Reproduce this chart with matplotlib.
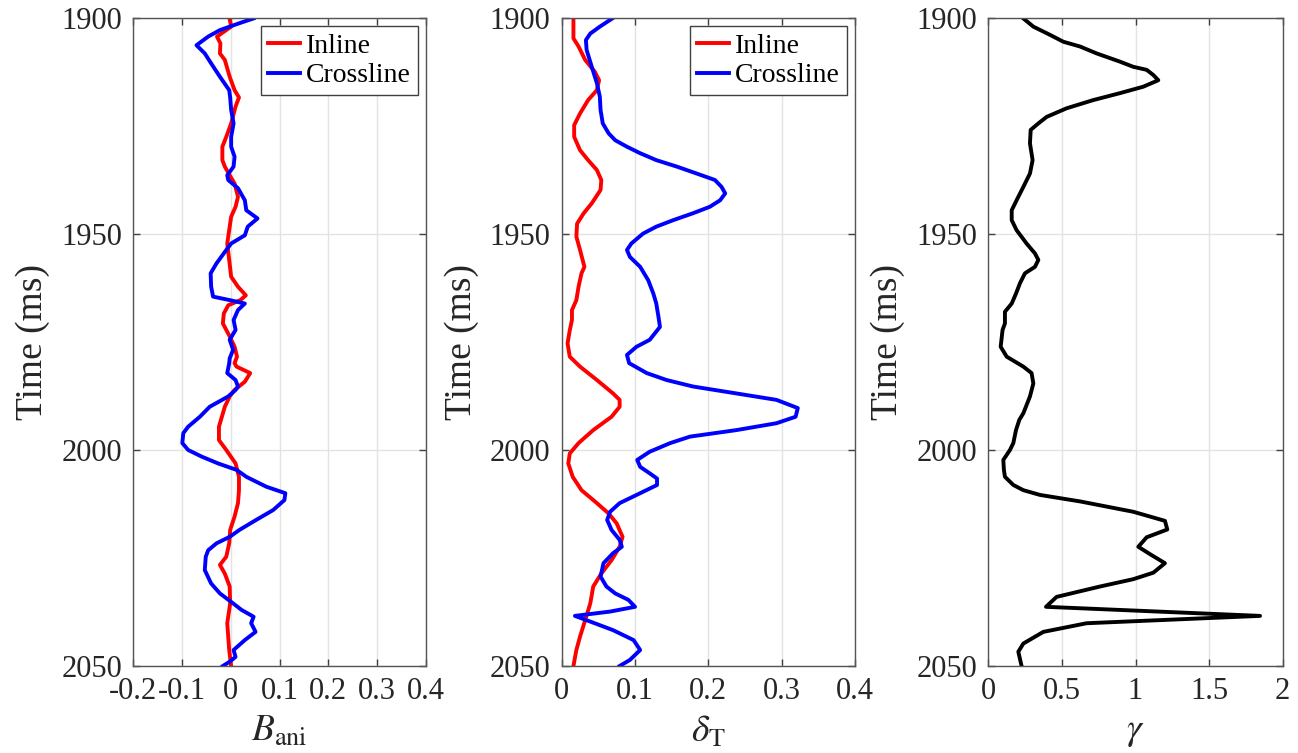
import matplotlib
matplotlib.use('Agg')
import matplotlib.pyplot as plt

# Time axis and attributes for the inline / crossline comparison
t_bani_in = [1900.3, 1902.0, 1904.3, 1905.9, 1908.2, 1909.7, 1913.6, 1916.7, 1918.4, 1920.5,
             1924.4, 1927.5, 1929.8, 1932.9, 1934.4, 1936.4, 1938.3, 1941.4, 1943.7, 1946.0,
             1949.1, 1952.2, 1956.0, 1959.9, 1962.2, 1964.2, 1965.3, 1966.5, 1968.4, 1970.7,
             1973.7, 1976.1, 1978.4, 1979.9, 1980.7, 1982.2, 1984.2, 1986.1, 1987.6, 1990.0,
             1994.6, 1997.7, 2000.0, 2003.1, 2006.2, 2009.3, 2012.3, 2015.4, 2018.5, 2021.6,
             2024.7, 2026.6, 2028.6, 2031.6, 2035.5, 2040.1, 2043.2, 2046.3, 2050.0]
bani_in = [-0.002, 0.001, -0.028, -0.021, -0.022, -0.012, -0.002, 0.008, 0.017, 0.010,
           0.001, -0.009, -0.017, -0.017, -0.012, -0.002, 0.008, 0.015, 0.010, 0.001,
           -0.003, -0.007, -0.003, 0.001, 0.015, 0.031, 0.020, -0.005, -0.014, -0.016,
           -0.002, 0.008, 0.013, 0.008, 0.012, 0.040, 0.029, 0.008, -0.002, -0.012,
           -0.024, -0.024, -0.009, 0.010, 0.017, 0.017, 0.015, 0.008, -0.001, -0.003,
           -0.009, -0.022, -0.012, -0.002, -0.001, -0.007, -0.005, -0.003, 0.001]

t_bani_cr = [1900.1, 1901.2, 1902.8, 1904.3, 1906.3, 1908.2, 1910.5, 1913.6, 1916.7, 1918.4,
             1921.3, 1924.4, 1927.5, 1929.8, 1932.1, 1934.4, 1936.4, 1937.5, 1939.4, 1942.2,
             1944.5, 1946.4, 1948.3, 1950.3, 1952.2, 1953.7, 1956.8, 1959.1, 1962.2, 1964.5,
             1965.3, 1966.1, 1967.6, 1969.9, 1972.2, 1974.5, 1976.8, 1978.8, 1979.9, 1982.2,
             1983.8, 1985.3, 1986.1, 1987.6, 1990.0, 1992.3, 1994.6, 1996.1, 1998.4, 2000.0,
             2001.5, 2003.1, 2004.6, 2006.2, 2008.5, 2010.0, 2011.6, 2013.9, 2016.2, 2018.5,
             2020.1, 2021.6, 2023.2, 2024.7, 2027.8, 2030.9, 2033.2, 2035.5, 2037.0, 2038.6,
             2040.1, 2042.1, 2044.0, 2046.3, 2047.9, 2049.0, 2050.0]
bani_cr = [0.047, 0.018, -0.022, -0.046, -0.070, -0.053, -0.040, -0.022, -0.003, -0.001,
           0.001, 0.006, 0.001, 0.001, 0.008, 0.006, -0.007, -0.005, 0.015, 0.029,
           0.032, 0.055, 0.035, 0.029, 0.001, -0.009, -0.029, -0.041, -0.040, -0.036,
           -0.002, 0.029, 0.015, 0.006, 0.010, -0.002, 0.005, -0.002, -0.003, -0.007,
           0.010, 0.015, 0.010, -0.005, -0.043, -0.063, -0.087, -0.097, -0.099, -0.087,
           -0.060, -0.026, 0.012, 0.032, 0.073, 0.112, 0.110, 0.087, 0.052, 0.018,
           -0.002, -0.029, -0.046, -0.051, -0.053, -0.040, -0.022, 0.005, 0.022, 0.047,
           0.042, 0.051, 0.029, 0.006, 0.010, -0.002, -0.016]

t_dT_in = [1900.0, 1904.7, 1906.6, 1909.7, 1912.4, 1914.4, 1916.7, 1919.0, 1922.1, 1924.8,
           1927.5, 1930.6, 1932.9, 1935.2, 1937.5, 1939.8, 1942.9, 1945.2, 1947.6, 1950.6,
           1953.7, 1957.6, 1959.1, 1962.2, 1965.3, 1967.6, 1969.9, 1972.3, 1975.3, 1978.4,
           1980.7, 1983.8, 1986.9, 1988.4, 1990.0, 1992.3, 1995.4, 1998.4, 2000.8, 2003.1,
           2006.2, 2009.3, 2012.3, 2014.7, 2017.0, 2020.1, 2022.4, 2025.5, 2028.6, 2031.6,
           2035.5, 2039.4, 2043.2, 2046.3, 2050.0]
dT_in = [0.016, 0.016, 0.023, 0.032, 0.045, 0.051, 0.048, 0.036, 0.025, 0.017,
         0.017, 0.025, 0.036, 0.048, 0.054, 0.053, 0.041, 0.030, 0.021, 0.020,
         0.025, 0.031, 0.027, 0.023, 0.020, 0.014, 0.014, 0.011, 0.008, 0.011,
         0.025, 0.048, 0.070, 0.079, 0.079, 0.068, 0.043, 0.023, 0.011, 0.009,
         0.015, 0.027, 0.048, 0.064, 0.075, 0.083, 0.079, 0.068, 0.054, 0.043,
         0.039, 0.032, 0.025, 0.020, 0.016]

t_dT_cr = [1900.0, 1902.0, 1903.6, 1905.1, 1907.4, 1911.3, 1915.1, 1918.2, 1921.3, 1924.4,
           1926.7, 1928.3, 1929.8, 1931.3, 1932.9, 1934.4, 1936.0, 1937.5, 1939.1, 1940.6,
           1942.2, 1943.7, 1945.2, 1946.8, 1948.3, 1949.9, 1952.2, 1953.7, 1955.3, 1957.6,
           1960.7, 1963.8, 1966.1, 1969.2, 1971.5, 1974.5, 1976.1, 1978.0, 1979.9, 1982.2,
           1983.8, 1985.3, 1986.9, 1988.4, 1990.3, 1992.3, 1993.8, 1995.4, 1996.9, 1998.4,
           2000.4, 2002.3, 2003.9, 2005.4, 2006.6, 2008.1, 2010.0, 2012.3, 2014.3, 2016.2,
           2018.5, 2020.8, 2022.4, 2023.9, 2026.2, 2029.3, 2031.6, 2033.2, 2034.7, 2036.3,
           2037.4, 2038.4, 2039.4, 2041.7, 2044.0, 2046.3, 2048.6, 2050.0]
dT_cr = [0.070, 0.052, 0.039, 0.033, 0.034, 0.041, 0.048, 0.052, 0.053, 0.056,
         0.064, 0.073, 0.089, 0.107, 0.129, 0.157, 0.184, 0.209, 0.218, 0.223,
         0.216, 0.202, 0.179, 0.152, 0.129, 0.111, 0.095, 0.089, 0.093, 0.107,
         0.118, 0.125, 0.129, 0.132, 0.134, 0.120, 0.102, 0.089, 0.092, 0.116,
         0.143, 0.179, 0.238, 0.293, 0.322, 0.319, 0.293, 0.238, 0.175, 0.148,
         0.120, 0.103, 0.107, 0.120, 0.130, 0.130, 0.107, 0.079, 0.066, 0.062,
         0.068, 0.079, 0.082, 0.070, 0.057, 0.053, 0.061, 0.073, 0.091, 0.100,
         0.066, 0.018, 0.034, 0.070, 0.098, 0.107, 0.093, 0.079]

t_gamma = [1900.1, 1902.0, 1903.9, 1905.5, 1906.6, 1908.2, 1910.1, 1911.3, 1912.0, 1913.2,
           1914.4, 1915.9, 1917.4, 1919.0, 1920.9, 1922.9, 1924.4, 1925.9, 1929.0, 1932.9,
           1936.0, 1939.1, 1942.2, 1944.5, 1946.8, 1949.1, 1952.2, 1954.5, 1956.0, 1957.6,
           1959.1, 1961.4, 1963.8, 1966.1, 1968.0, 1970.7, 1972.2, 1976.1, 1978.4, 1980.7,
           1982.2, 1984.6, 1987.6, 1991.5, 1993.0, 1995.4, 1998.4, 2000.0, 2002.3, 2004.6,
           2006.2, 2008.1, 2009.3, 2010.4, 2011.9, 2014.3, 2016.4, 2018.4, 2020.2, 2022.4,
           2024.1, 2026.2, 2028.4, 2029.9, 2031.6, 2034.0, 2036.3, 2038.4, 2040.1, 2042.1,
           2044.8, 2046.7, 2050.0]
gamma = [0.238, 0.306, 0.419, 0.510, 0.623, 0.736, 0.894, 0.985, 1.076, 1.121,
         1.155, 1.053, 0.894, 0.713, 0.532, 0.396, 0.340, 0.288, 0.283, 0.301,
         0.283, 0.238, 0.192, 0.159, 0.159, 0.192, 0.260, 0.317, 0.340, 0.317,
         0.249, 0.215, 0.188, 0.159, 0.113, 0.113, 0.097, 0.084, 0.125, 0.238,
         0.294, 0.306, 0.283, 0.238, 0.211, 0.188, 0.170, 0.147, 0.102, 0.106,
         0.113, 0.170, 0.238, 0.351, 0.623, 0.985, 1.200, 1.216, 1.076, 1.019,
         1.098, 1.200, 1.121, 0.985, 0.759, 0.464, 0.392, 1.846, 0.668, 0.374,
         0.238, 0.204, 0.226]

y_ticks = [1900, 1950, 2000, 2050]

plt.rcParams['font.family'] = ['Liberation Serif', 'DejaVu Serif']
plt.rcParams['mathtext.fontset'] = 'stix'
plt.rcParams['axes.unicode_minus'] = False

fig = plt.figure(figsize=(12.98, 7.53), dpi=100)
W, H = 1298, 753


def make_axes(left_px, right_px):
    return fig.add_axes([left_px / W, 1 - 666 / H, (right_px - left_px) / W, 648 / H])


def style(ax, xlim, xticks, xlabel):
    ax.set_xlim(*xlim)
    ax.set_ylim(2050, 1900)
    ax.set_xticks(xticks)
    ax.set_yticks(y_ticks)
    ax.grid(True, color='#e3e3e3', linewidth=1.0)
    ax.set_axisbelow(True)
    ax.tick_params(direction='in', length=5, width=1, colors='#404040',
                   labelsize=22, labelcolor='#262626', top=True, right=True, pad=8)
    for sp in ax.spines.values():
        sp.set_color('#555555')
        sp.set_linewidth(1.0)
    ax.set_ylabel('Time (ms)', fontsize=27, color='#262626', labelpad=8)
    ax.set_xlabel(xlabel, fontsize=27, color='#262626', labelpad=6)


def add_legend(ax):
    leg = ax.legend(loc='upper right', fontsize=20, frameon=True, fancybox=False,
                    edgecolor='#404040', framealpha=1, handlelength=1.15,
                    handletextpad=0.2, borderpad=0.25, labelspacing=0.15,
                    borderaxespad=0.3)
    leg.get_frame().set_linewidth(1.0)


lw = 2.8

ax1 = make_axes(133, 426)
ax1.plot(bani_in, t_bani_in, color='#ff0000', lw=lw, label='Inline')
ax1.plot(bani_cr, t_bani_cr, color='#0000ff', lw=lw, label='Crossline')
style(ax1, (-0.2, 0.4), [-0.2, -0.1, 0, 0.1, 0.2, 0.3, 0.4], r'$B_{\mathrm{ani}}$')
ax1.set_xticklabels(['-0.2', '-0.1', '0', '0.1', '0.2', '0.3', '0.4'])
add_legend(ax1)

ax2 = make_axes(561.7, 855)
ax2.plot(dT_in, t_dT_in, color='#ff0000', lw=lw, label='Inline')
ax2.plot(dT_cr, t_dT_cr, color='#0000ff', lw=lw, label='Crossline')
style(ax2, (0, 0.4), [0, 0.1, 0.2, 0.3, 0.4], r'$\delta_{\mathrm{T}}$')
ax2.set_xticklabels(['0', '0.1', '0.2', '0.3', '0.4'])
add_legend(ax2)

ax3 = make_axes(988.3, 1282.7)
ax3.plot(gamma, t_gamma, color='black', lw=lw)
style(ax3, (0, 2), [0, 0.5, 1, 1.5, 2], r'$\gamma$')
ax3.set_xticklabels(['0', '0.5', '1', '1.5', '2'])

fig.savefig('out.png', dpi=100)
